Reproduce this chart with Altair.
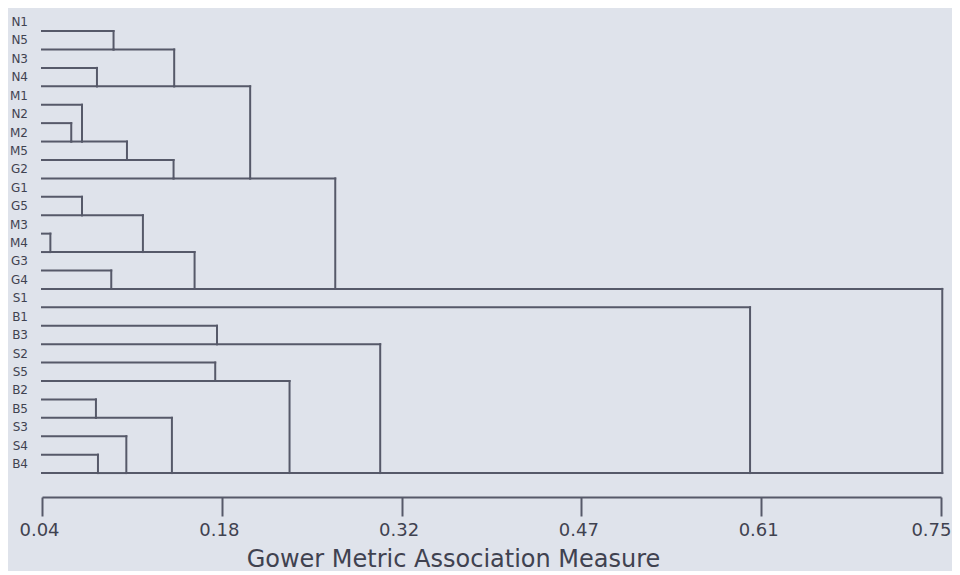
import altair as alt
import pandas as pd

# Leaves, top to bottom
leaves = ["N1", "N5", "N3", "N4", "M1", "N2", "M2", "M5", "G2", "G1",
          "G5", "M3", "M4", "G3", "G4", "S1", "B1", "B3", "S2", "S5",
          "B2", "B5", "S3", "S4", "B4"]

# Agglomeration steps: ids 0-24 are leaves, merge i creates cluster id 25+i
merge_a = [11, 5, 4, 9, 20, 2, 23, 13, 0, 22, 27, 28, 29, 35, 33, 36, 18, 16, 39, 41, 43, 42, 15, 45]
merge_b = [12, 6, 26, 10, 21, 3, 24, 14, 1, 31, 7, 25, 34, 8, 30, 32, 19, 17, 38, 37, 40, 44, 46, 47]
merge_h = [0.0466, 0.0631, 0.0716, 0.0716, 0.0826, 0.0834, 0.0842, 0.0947, 0.0965, 0.1066,
           0.1071, 0.1197, 0.1426, 0.1439, 0.1444, 0.1605, 0.1768, 0.1782, 0.2044, 0.2355,
           0.2716, 0.3071, 0.5992, 0.751]

leaf_height = 0.04
tick_values = [0.04, 0.182, 0.324, 0.466, 0.608, 0.75]

# Build the dendrogram segments (cluster drawn at its bottom-most leaf row)
rep = {i: i for i in range(len(leaves))}
hgt = {i: leaf_height for i in range(len(leaves))}
segs = []
for k, (a, b, h) in enumerate(zip(merge_a, merge_b, merge_h)):
    segs.append({"x": hgt[a], "x2": h, "y": rep[a], "y2": rep[a]})
    segs.append({"x": hgt[b], "x2": h, "y": rep[b], "y2": rep[b]})
    segs.append({"x": h, "x2": h, "y": rep[a], "y2": rep[b]})
    nid = len(leaves) + k
    rep[nid] = max(rep[a], rep[b])
    hgt[nid] = h
seg_df = pd.DataFrame(segs)
leaf_df = pd.DataFrame({"leaf": leaves, "idx": list(range(len(leaves)))})

line_color = "#565969"
text_color = "#3f4250"
font = "DejaVu Sans"

xscale = alt.Scale(domain=[0.04, 0.75], nice=False, zero=False)
yscale = alt.Scale(domain=[-0.6, 25.3], reverse=True, nice=False, zero=False)

lines = alt.Chart(seg_df).mark_rule(color=line_color, strokeWidth=2, strokeCap="square").encode(
    x=alt.X("x:Q", scale=xscale, axis=alt.Axis(
        values=tick_values, format=".2f", title="Gower Metric Association Measure",
        grid=False, tickSize=19, tickWidth=2, tickColor=line_color,
        domainColor=line_color, domainWidth=2,
        labelFont=font, labelFontSize=18, labelColor=text_color, labelPadding=5,
        labelAlign={"condition": {"test": "datum.value >= 0.74", "value": "right"}, "value": "center"},
        labelOffset={"condition": {"test": "datum.value >= 0.74", "value": 10}, "value": -3},
        labelFlush=False, labelOverlap=False,
        titleFont=font, titleFontSize=24, titleFontWeight="normal", titleColor=text_color,
        titlePadding=8, titleX=411, titleAlign="center")),
    x2="x2:Q",
    y=alt.Y("y:Q", scale=yscale, axis=None),
    y2="y2:Q",
)

labels = alt.Chart(leaf_df).mark_text(
    align="right", baseline="middle", dy=-9, font=font, fontSize=12, color=text_color
).encode(
    x=alt.value(-14),
    y=alt.Y("idx:Q", scale=yscale, axis=None),
    text="leaf:N",
)

chart = (lines + labels).properties(
    width=899, height=477,
    autosize=alt.AutoSizeParams(type="none"),
    padding={"left": 34, "top": 12, "right": 11, "bottom": 74},
    background="#dfe3eb",
).configure_view(strokeWidth=0)

chart.save("out.html", embed_options={"renderer": "svg", "actions": False})
